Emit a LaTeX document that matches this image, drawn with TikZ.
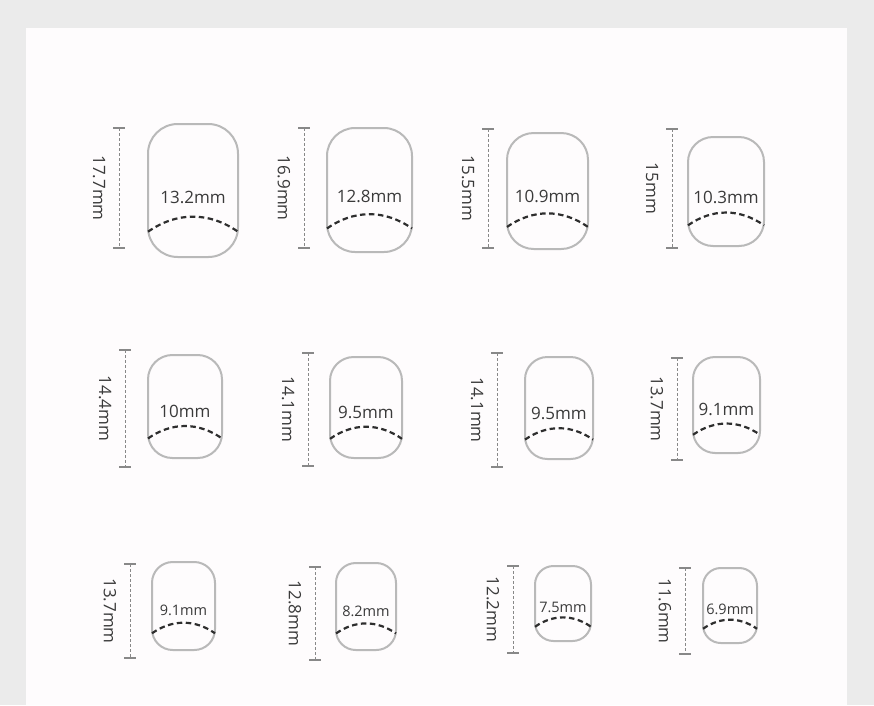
\documentclass[tikz,border=0pt]{standalone}
\usepackage{fontspec}
\setmainfont{Open Sans}
\usetikzlibrary{calc}

\definecolor{pagegray}{HTML}{EBEBEB}
\definecolor{panelwhite}{HTML}{FEFCFD}
\definecolor{nailgray}{HTML}{B9B9B9}
\definecolor{arcgray}{HTML}{2E2E2E}
\definecolor{dimgray}{HTML}{888888}
\definecolor{labelgray}{HTML}{3A3A3A}

\tikzset{
  nail/.style={draw=nailgray, line width=2pt, inner sep=0pt, outer sep=0pt},
  cuticle/.style={draw=arcgray, line width=2.2pt, dash pattern=on 5.5pt off 3.5pt},
  dimline/.style={draw=dimgray, line width=1pt, dash pattern=on 3pt off 2pt},
  dimtick/.style={draw=dimgray, line width=1.2pt},
  sizelabel/.style={text=labelgray, inner sep=0pt},
  lenlabel/.style={text=labelgray, inner sep=0pt, rotate=-90,
    font=\fontsize{17}{17}\selectfont},
}

\begin{document}
\begin{tikzpicture}[x=1pt, y=-1pt]
\useasboundingbox (0,0) rectangle (874,705);
\fill[pagegray] (0,0) rectangle (874,705);
\fill[panelwhite] (26,28) rectangle (847,705);

% nails: centre, width, height, font size, width text, ruler x, top, bottom, length text
\foreach \cx/\cy/\w/\h/\fs/\wl/\dx/\dt/\db/\hl [count=\i] in {
  193/190.5/90/133/17/13.2mm/119/128/248/17.7mm,
  369.5/190/85/124/17/12.8mm/304/128/248/16.9mm,
  547.5/191/81/116/17/10.9mm/488/129/248/15.5mm,
  726/191.5/76/109/17/10.3mm/672/129/248/15mm,
  185/406.5/74/103/17/10mm/125/350/467/14.4mm,
  366/407.5/72/101/17/9.5mm/308/353/466/14.1mm,
  559/408/68/102/17/9.5mm/497/353/467/14.1mm,
  726.5/405/67/96/17/9.1mm/677/358/460/13.7mm,
  183.5/606/63/88/14.5/9.1mm/130/564/658/13.7mm,
  366/606.5/60/87/14.5/8.2mm/315/567/660/12.8mm,
  563/603.5/56/75/14.5/7.5mm/513/566/653/12.2mm,
  730/605.5/54/75/14.5/6.9mm/685/568/654/11.6mm}{
  \pgfmathsetmacro{\rc}{0.33*\w}
  \node[nail, minimum width=\w pt, minimum height=\h pt, rounded corners=\rc pt]
    (n\i) at (\cx,\cy) {};
  \node[sizelabel, font=\fontsize{\fs}{\fs}\selectfont] (w\i) at (\cx,\cy+0.05*\h) {\wl};
  \draw[cuticle] ($(n\i.south west)!0.19!(n\i.north west)$)
    to[bend left=35] ($(n\i.south east)!0.19!(n\i.north east)$);
  \coordinate (t\i) at (\dx,\dt);
  \coordinate (b\i) at (\dx,\db);
  \draw[dimline] (t\i) -- (b\i);
  \draw[dimtick] ($(t\i)+(-6,0)$) -- ($(t\i)+(6,0)$);
  \draw[dimtick] ($(b\i)+(-6,0)$) -- ($(b\i)+(6,0)$);
  \node[lenlabel] (h\i) at ($(t\i)!0.5!(b\i)+(-20,0)$) {\hl};
}
\end{tikzpicture}
\end{document}
